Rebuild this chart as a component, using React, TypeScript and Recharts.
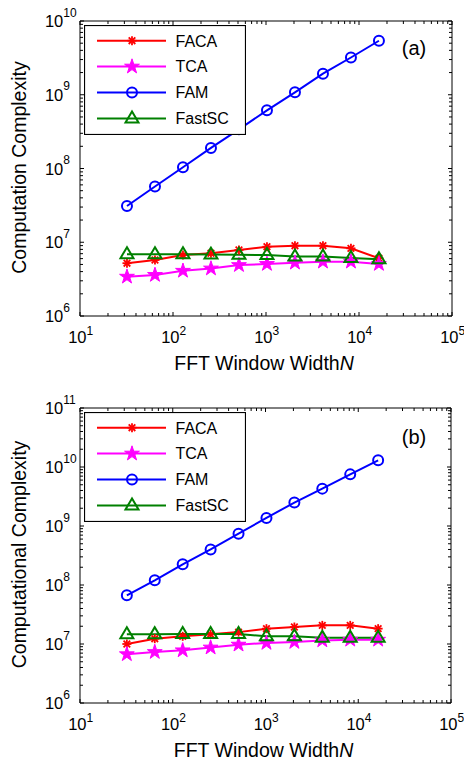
import React from 'react';
import { LineChart, Line, XAxis, YAxis, Legend, Label } from 'recharts';

// FFT window widths N
const windowWidths = [32, 64, 128, 256, 512, 1024, 2048, 4096, 8192, 16384];

// panel (a) – computation complexity
const facaA = [5.2e6, 5.75e6, 6.7e6, 7.1e6, 7.85e6, 8.7e6, 8.98e6, 8.98e6, 8.27e6, 6.06e6];
const tcaA = [3.41e6, 3.6e6, 4.1e6, 4.4e6, 4.9e6, 5.07e6, 5.28e6, 5.45e6, 5.45e6, 5.07e6];
const famA = [3.1e7, 5.7e7, 1.04e8, 1.9e8, 3.4e8, 6.15e8, 1.08e9, 1.93e9, 3.2e9, 5.4e9];
const fastscA = [6.9e6, 6.9e6, 6.9e6, 6.8e6, 6.75e6, 6.7e6, 6.4e6, 6.4e6, 6.1e6, 5.9e6];

// panel (b) – computational complexity
const facaB = [1.0e7, 1.23e7, 1.35e7, 1.46e7, 1.59e7, 1.82e7, 1.94e7, 2.07e7, 2.07e7, 1.82e7];
const tcaB = [6.7e6, 7.3e6, 7.8e6, 8.7e6, 9.75e6, 1.04e7, 1.08e7, 1.15e7, 1.18e7, 1.18e7];
const famB = [6.7e7, 1.2e8, 2.24e8, 4.0e8, 7.4e8, 1.37e9, 2.5e9, 4.3e9, 7.5e9, 1.3e10];
const fastscB = [1.46e7, 1.47e7, 1.48e7, 1.48e7, 1.48e7, 1.35e7, 1.35e7, 1.28e7, 1.28e7, 1.28e7];

// axis decades (tick labels are 10^exp)
const xDecades = [1, 2, 3, 4, 5];
const yDecadesA = [6, 7, 8, 9, 10];
const yDecadesB = [6, 7, 8, 9, 10, 11];

const seriesNames = ['FACA', 'TCA', 'FAM', 'FastSC'];
const seriesKeys = ['faca', 'tca', 'fam', 'fastsc'];
const seriesColors = ['#ff0000', '#ff00ff', '#0000ff', '#008000'];

const FONT = '"Liberation Sans", Arial, Helvetica, sans-serif';

// major + minor ticks of a log axis
const logTicks = (decades: number[]) => {
  const out: number[] = [];
  decades.forEach((d, i) => {
    out.push(Math.pow(10, d));
    if (i < decades.length - 1) {
      for (let m = 2; m <= 9; m++) out.push(m * Math.pow(10, d));
    }
  });
  return out;
};

const isMajor = (v: number) => Math.abs(Math.log10(v) - Math.round(Math.log10(v))) < 1e-6;
const expOf = (v: number) => Math.round(Math.log10(v));

const MAJOR = 4;
const MINOR = 3;

const BottomTick = (props: any) => {
  const { x, y, payload } = props;
  const v = payload.value;
  const major = isMajor(v);
  return (
    <g>
      <line x1={x} y1={y} x2={x} y2={y - (major ? MAJOR : MINOR)} stroke="#000" />
      {major && (
        <>
          <text x={x + 6.5} y={y + 27} fontSize={16.5} fontFamily={FONT} textAnchor="end" fill="#000">10</text>
          <text x={x + 6.5} y={y + 19} fontSize={12} fontFamily={FONT} textAnchor="start" fill="#000">{expOf(v)}</text>
        </>
      )}
    </g>
  );
};

const TopTick = (props: any) => {
  const { x, y, payload } = props;
  const major = isMajor(payload.value);
  return <line x1={x} y1={y} x2={x} y2={y + (major ? MAJOR : MINOR)} stroke="#000" />;
};

const LeftTick = (props: any) => {
  const { x, y, payload } = props;
  const v = payload.value;
  const major = isMajor(v);
  return (
    <g>
      <line x1={x} y1={y} x2={x + (major ? MAJOR : MINOR)} y2={y} stroke="#000" />
      {major && (
        <>
          <text x={x - 16.7} y={y + 6} fontSize={16.5} fontFamily={FONT} textAnchor="end" fill="#000">10</text>
          <text x={x - 16.7} y={y - 4.5} fontSize={12} fontFamily={FONT} textAnchor="start" fill="#000">{expOf(v)}</text>
        </>
      )}
    </g>
  );
};

const RightTick = (props: any) => {
  const { x, y, payload } = props;
  const major = isMajor(payload.value);
  return <line x1={x} y1={y} x2={x - (major ? MAJOR : MINOR)} y2={y} stroke="#000" />;
};

// MATLAB-like markers
const Asterisk = ({ cx, cy }: { cx: number; cy: number }) => (
  <g stroke="#ff0000" strokeWidth={1.8} fill="none">
    <line x1={cx - 4.5} y1={cy} x2={cx + 4.5} y2={cy} />
    <line x1={cx} y1={cy - 4.5} x2={cx} y2={cy + 4.5} />
    <line x1={cx - 3.3} y1={cy - 3.3} x2={cx + 3.3} y2={cy + 3.3} />
    <line x1={cx - 3.3} y1={cy + 3.3} x2={cx + 3.3} y2={cy - 3.3} />
  </g>
);

const Pentagram = ({ cx, cy }: { cx: number; cy: number }) => {
  const R = 7.8;
  const r = R * 0.382;
  const pts: string[] = [];
  for (let k = 0; k < 10; k++) {
    const rad = k % 2 === 0 ? R : r;
    const a = -Math.PI / 2 + (k * Math.PI) / 5;
    pts.push(`${cx + rad * Math.cos(a)},${cy + rad * Math.sin(a)}`);
  }
  return <polygon points={pts.join(' ')} fill="#ff00ff" stroke="#ff00ff" strokeWidth={1} />;
};

const Ring = ({ cx, cy }: { cx: number; cy: number }) => (
  <circle cx={cx} cy={cy} r={5} fill="none" stroke="#0000ff" strokeWidth={2} />
);

const Triangle = ({ cx, cy }: { cx: number; cy: number }) => (
  <polygon
    points={`${cx},${cy - 7} ${cx - 6.5},${cy + 4} ${cx + 6.5},${cy + 4}`}
    fill="none"
    stroke="#008000"
    strokeWidth={2}
  />
);

const markers = [Asterisk, Pentagram, Ring, Triangle];

const LegendBox = () => (
  <svg width={162} height={110} style={{ display: 'block' }}>
    <rect x={0.5} y={0.5} width={161} height={109} fill="#fff" stroke="#000" strokeWidth={1.2} />
    {seriesNames.map((name, i) => {
      const cy = 15.7 + i * 25.9;
      const M = markers[i];
      return (
        <g key={name}>
          <line x1={13} y1={cy} x2={82} y2={cy} stroke={seriesColors[i]} strokeWidth={2} />
          <M cx={48} cy={cy} />
          <text x={91.5} y={cy + 5.8} fontSize={16} fontFamily={FONT} fill="#000">{name}</text>
        </g>
      );
    })}
  </svg>
);

const XTitle = (props: any) => {
  const vb = props.viewBox || {};
  const cx = vb.x + vb.width / 2 - 2;
  return (
    <text x={cx} y={vb.y + 54} textAnchor="middle" fontSize={19.5} fontFamily={FONT} fill="#000">
      FFT Window Width<tspan fontStyle="italic">N</tspan>
    </text>
  );
};

const makeYTitle = (title: string) => (props: any) => {
  const { viewBox } = props;
  const cy = viewBox.y + viewBox.height / 2 - 1;
  return (
    <text
      x={26}
      y={cy}
      textAnchor="middle"
      fontSize={19.5}
      fontFamily={FONT}
      fill="#000"
      transform={`rotate(-90, 26, ${cy})`}
    >
      {title}
    </text>
  );
};

interface PanelProps {
  faca: number[];
  tca: number[];
  fam: number[];
  fastsc: number[];
  yDecades: number[];
  yTitle: string;
  tag: string;
  topH: number;
  bottomH: number;
  rightW: number;
  legendTop: number;
  tagTop: number;
}

const Panel: React.FC<PanelProps> = ({ faca, tca, fam, fastsc, yDecades, yTitle, tag, topH, bottomH, rightW, legendTop, tagTop }) => {
  const data = windowWidths.map((n, i) => ({ n, faca: faca[i], tca: tca[i], fam: fam[i], fastsc: fastsc[i] }));
  const xTicks = logTicks(xDecades);
  const yTicks = logTicks(yDecades);
  const yDomain = [Math.pow(10, yDecades[0]), Math.pow(10, yDecades[yDecades.length - 1])];
  const YTitle = makeYTitle(yTitle);

  return (
    <div style={{ position: 'relative', width: 464, height: 380 }}>
      <LineChart width={464} height={380} data={data} margin={{ top: 0, right: 0, bottom: 0, left: 0 }}>
        <XAxis
          xAxisId="x"
          dataKey="n"
          type="number"
          scale="log"
          domain={[10, 1e5]}
          ticks={xTicks}
          interval={0}
          tickSize={0}
          tickMargin={0}
          tickLine={false}
          tick={BottomTick}
          height={bottomH}
          axisLine={{ stroke: '#000' }}
        >
          <Label content={XTitle} />
        </XAxis>
        <XAxis
          xAxisId="top"
          orientation="top"
          dataKey="n"
          type="number"
          scale="log"
          domain={[10, 1e5]}
          ticks={xTicks}
          interval={0}
          tickSize={0}
          tickMargin={0}
          tickLine={false}
          tick={TopTick}
          height={topH}
          axisLine={{ stroke: '#000' }}
        />
        <YAxis
          yAxisId="y"
          type="number"
          scale="log"
          domain={yDomain}
          allowDataOverflow
          ticks={yTicks}
          interval={0}
          tickSize={0}
          tickMargin={0}
          tickLine={false}
          tick={LeftTick}
          width={80}
          axisLine={{ stroke: '#000' }}
        >
          <Label content={YTitle} />
        </YAxis>
        <YAxis
          yAxisId="right"
          orientation="right"
          type="number"
          scale="log"
          domain={yDomain}
          allowDataOverflow
          ticks={yTicks}
          interval={0}
          tickSize={0}
          tickMargin={0}
          tickLine={false}
          tick={RightTick}
          width={rightW}
          axisLine={{ stroke: '#000' }}
        />
        {seriesKeys.map((key, i) => {
          const M = markers[i];
          return (
            <Line
              key={key}
              xAxisId="x"
              yAxisId="y"
              dataKey={key}
              stroke={seriesColors[i]}
              strokeWidth={2}
              dot={(p: any) => <M key={`${key}-${p.index}`} cx={p.cx} cy={p.cy} />}
              activeDot={false}
              isAnimationActive={false}
            />
          );
        })}
        <Legend
          layout="vertical"
          align="center"
          verticalAlign="middle"
          wrapperStyle={{ left: 84, top: legendTop, width: 162, height: 110, margin: 0, padding: 0 }}
          content={LegendBox}
        />
      </LineChart>
      <div
        style={{
          position: 'absolute',
          left: 384,
          top: tagTop,
          width: 60,
          textAlign: 'center',
          fontFamily: FONT,
          fontSize: 20,
          lineHeight: '20px',
          color: '#000',
        }}
      >
        {tag}
      </div>
    </div>
  );
};

export default function App() {
  return (
    <div style={{ position: 'absolute', left: 0, top: 0, width: 464, height: 760, background: '#fff' }}>
      <Panel
        faca={facaA}
        tca={tcaA}
        fam={famA}
        fastsc={fastscA}
        yDecades={yDecadesA}
        yTitle="Computation Complexity"
        tag="(a)"
        topH={21}
        bottomH={64}
        rightW={12}
        legendTop={25}
        tagTop={38}
      />
      <Panel
        faca={facaB}
        tca={tcaB}
        fam={famB}
        fastsc={fastscB}
        yDecades={yDecadesB}
        yTitle="Computational Complexity"
        tag="(b)"
        topH={28}
        bottomH={57}
        rightW={13}
        legendTop={32}
        tagTop={46.7}
      />
    </div>
  );
}
